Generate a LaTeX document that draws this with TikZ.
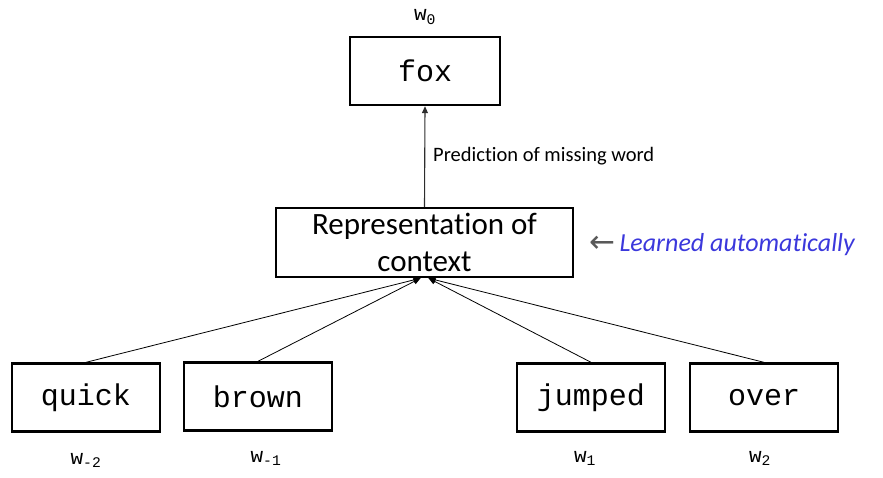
\documentclass[tikz,border=0pt]{standalone}
\usepackage{fontspec}
\setmainfont{Carlito}[Ligatures={NoCommon}]
\newfontfamily\cour{Liberation Mono}
\newfontfamily\dv{DejaVu Sans}
\usetikzlibrary{arrows.meta}
\definecolor{learnblue}{RGB}{59,56,220}
\definecolor{arrgray}{RGB}{89,89,89}
\begin{document}
\begin{tikzpicture}[x=1pt,y=-1pt,
  wordbox/.style={draw=black,line width=2.4pt,minimum width=148pt,minimum height=68pt,inner sep=0pt,
    font=\cour\fontsize{30}{31}\selectfont},
  wlabel/.style={inner sep=0pt,font=\cour\fontsize{21}{22}\selectfont},
  conn/.style={line width=0.8pt,-{Triangle[length=7pt,width=6pt]}},
  vconn/.style={line width=1.1pt,draw=arrgray,-{Triangle[length=7pt,width=6pt]},arrgray!50!black}
]
\useasboundingbox (0,0) rectangle (883,477);
\node[wordbox,minimum width=150pt] (fox) at (425,71) {fox};
\node[draw=black,line width=2.4pt,minimum width=297pt,minimum height=69pt,inner sep=0pt,align=center,
  font=\fontsize{31}{37}\selectfont] (rep) at (424.5,242.5) {Representation of\\context};
\node[wordbox] (quick) at (86,397.5) {quick};
\node[wordbox] (brown) at (258,396.5) {brown};
\node[wordbox] (jumped) at (591,397.5) {jumped};
\node[wordbox] (over) at (764,397.5) {over};

\node[wlabel] (w0) at (425,17) {w\textsubscript{0}};
\node[wlabel] (wm2) at (86,460) {w\textsubscript{-2}};
\node[wlabel] (wm1) at (266,458) {w\textsubscript{-1}};
\node[wlabel] (w1) at (585,458) {w\textsubscript{1}};
\node[wlabel] (w2) at (760,458) {w\textsubscript{2}};

\draw[vconn] (rep.north) -- (fox.south);
\node[anchor=west,inner sep=0pt,font=\fontsize{20.5}{22}\selectfont] (pred) at (433,156) {Prediction of missing word};

\draw[conn] (quick.north) -- ([xshift=-4pt]rep.south);
\draw[conn] (brown.north) -- ([xshift=-4pt]rep.south);
\draw[conn] (jumped.north) -- ([xshift=4pt]rep.south);
\draw[conn] (over.north) -- ([xshift=4pt]rep.south);

\node[anchor=west,inner sep=0pt,font=\fontsize{26}{28}\selectfont] (learn) at (589,245)
  {{\dv\color{arrgray}\fontsize{31}{32}\selectfont\raisebox{-1pt}{←}}\,{\color{learnblue}\itshape Learned automatically}};
\end{tikzpicture}
\end{document}
